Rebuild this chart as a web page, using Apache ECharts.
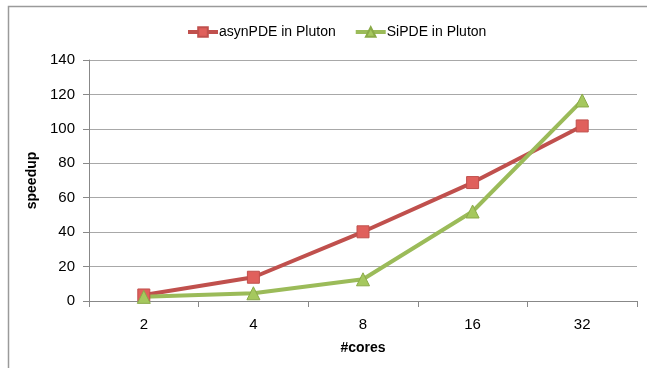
<!DOCTYPE html>
<html><head><meta charset="utf-8">
<script src="https://cdn.jsdelivr.net/npm/echarts@6/dist/echarts.min.js"></script>
<style>html,body{margin:0;padding:0;background:#fff}#c{width:647px;height:368px}</style>
</head><body><div id="c"></div>
<script>
const categories = ['2','4','8','16','32'];
const asynPDE = [3.5, 13.8, 40.2, 68.8, 101.7];
const SiPDE = [2.4, 4.5, 12.6, 52, 116.5];
const yTicks = {min:0, max:140, interval:20};
const font = '"Liberation Sans", Arial, sans-serif';
const chart = echarts.init(document.getElementById('c'), null, {renderer:'canvas'});
chart.setOption({
  animation:false,
  backgroundColor:'#fff',
  graphic:[{type:'rect', shape:{x:8.5,y:6.5,width:700,height:400}, style:{fill:'none', stroke:'#9a9a9a', lineWidth:1.5}, silent:true}],
  legend:{
    top:20, left:181, itemGap:18, itemWidth:30, itemHeight:12,
    lineStyle:{width:4},
    textStyle:{fontFamily:font, fontSize:14, color:'#000', padding:[0,0,0,-4]},
    data:['asynPDE in Pluton','SiPDE in Pluton']
  },
  grid:{left:89, right:10, top:60, bottom:67},
  xAxis:{
    type:'category', data:categories, name:'#cores', nameLocation:'middle', nameGap:40,
    nameTextStyle:{fontFamily:font, fontSize:14, fontWeight:'bold', color:'#000'},
    axisLine:{lineStyle:{color:'#888', width:1}},
    axisTick:{show:true, length:6, lineStyle:{color:'#888'}},
    axisLabel:{fontFamily:font, fontSize:15, color:'#000', margin:16}
  },
  yAxis:{
    type:'value', min:yTicks.min, max:yTicks.max, interval:yTicks.interval,
    name:'speedup', nameLocation:'middle', nameGap:48, nameRotate:90,
    nameTextStyle:{fontFamily:font, fontSize:14, fontWeight:'bold', color:'#000'},
    axisLine:{show:true, lineStyle:{color:'#888', width:1}},
    axisTick:{show:true, length:6, lineStyle:{color:'#888'}},
    axisLabel:{fontFamily:font, fontSize:15, color:'#000', margin:14},
    splitLine:{lineStyle:{color:'#a8a8a8', width:1}}
  },
  series:[
    {name:'asynPDE in Pluton', type:'line', data:asynPDE, symbol:'rect', symbolSize:12,
     lineStyle:{color:'#C0504D', width:4}, itemStyle:{color:'#E0605C', borderColor:'#C0504D', borderWidth:1}},
    {name:'SiPDE in Pluton', type:'line', data:SiPDE, symbol:'triangle', symbolSize:13,
     lineStyle:{color:'#9BBB59', width:4}, itemStyle:{color:'#A5C85E', borderColor:'#8AAA48', borderWidth:1}}
  ]
});
</script></body></html>
